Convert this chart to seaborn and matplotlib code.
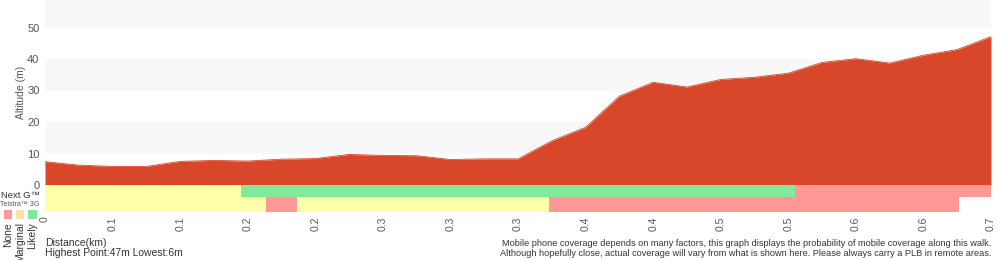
import numpy as np
import pandas as pd
import seaborn as sns
import matplotlib
matplotlib.use("Agg")
import matplotlib.pyplot as plt

sns.set_style("white")
plt.rcParams['font.family'] = ['Liberation Sans', 'DejaVu Sans']

# ---------------- data ----------------
distance_km = [0.0, 0.025, 0.05, 0.075, 0.1, 0.125, 0.15, 0.175, 0.2, 0.225,
               0.25, 0.275, 0.3, 0.325, 0.35, 0.375, 0.4, 0.425, 0.45, 0.475,
               0.5, 0.525, 0.55, 0.575, 0.6, 0.625, 0.65, 0.675, 0.7]
altitude_m = [7.4, 6.3, 5.9, 5.9, 7.5, 7.8, 7.6, 8.2, 8.4, 9.7,
              9.4, 9.3, 8.1, 8.3, 8.3, 14.0, 18.3, 28.2, 32.6, 31.1,
              33.5, 34.2, 35.5, 38.9, 40.1, 38.7, 41.2, 43.0, 47.1]

tick_pos = [0.0, 0.05, 0.1, 0.15, 0.2, 0.25, 0.3, 0.35, 0.4, 0.45, 0.5, 0.55, 0.6, 0.65, 0.7]
tick_labels = ["0", "0.1", "0.1", "0.2", "0.2", "0.3", "0.3", "0.3", "0.4", "0.4",
               "0.5", "0.5", "0.6", "0.6", "0.7"]
alt_ticks = [0, 10, 20, 30, 40, 50]

# coverage segments (start km, end km, level)
nextg_start = [0.0, 0.145, 0.555]
nextg_end = [0.145, 0.555, 0.7]
nextg_level = ["Marginal", "Likely", "None"]
g3_start = [0.0, 0.1635, 0.1865, 0.373]
g3_end = [0.1635, 0.1865, 0.373, 0.676]
g3_level = ["Marginal", "None", "Marginal", "None"]

levels = ["None", "Marginal", "Likely"]
bar_colors = {"None": "#ff9896", "Marginal": "#ffffaa", "Likely": "#80e99a"}
legend_colors = {"None": "#ff9896", "Marginal": "#ffe0a8", "Likely": "#80e99a"}

RED = "#d9472a"
GREY_TXT = "#555555"

df = pd.DataFrame({"dist": distance_km, "alt": altitude_m})

W, H = 1000, 260
fig = plt.figure(figsize=(W / 100, H / 100), dpi=100)

def px_axes(x0, y0, x1, y1):
    return fig.add_axes([x0 / W, 1 - y1 / H, (x1 - x0) / W, (y1 - y0) / H])

# ---------------- altitude chart ----------------
ax = px_axes(45, 0, 991, 185)
ymax = 185 / 3.15
for lo in range(10, 60, 20):
    ax.axhspan(lo, lo + 10, color="#f8f8f8", lw=0, zorder=0)
ax.axhspan(50, ymax, color="#f8f8f8", lw=0, zorder=0)
sns.lineplot(data=df, x="dist", y="alt", color=RED, lw=0.6, ax=ax, zorder=3)
ax.fill_between(df["dist"], 0, df["alt"], color=RED, lw=0, zorder=2)
ax.set_xlim(0, 0.7)
ax.set_ylim(0, ymax)
ax.set_yticks(alt_ticks)
ax.set_yticklabels([str(t) for t in alt_ticks])
ax.set_xticks([])
ax.set_xlabel("")
ax.set_ylabel("Altitude (m)", fontsize=7.5, color=GREY_TXT, labelpad=1)
ax.tick_params(axis="y", length=2, width=0.6, color="#888888", labelsize=8,
               labelcolor=GREY_TXT, pad=2)
for s in ax.spines.values():
    s.set_visible(False)

# ---------------- coverage strip ----------------
cx = px_axes(45, 185, 991, 212)
cx.barh([21], np.array(nextg_end) - np.array(nextg_start), left=nextg_start, height=12,
        color=[bar_colors[l] for l in nextg_level], lw=0, align="center")
cx.barh([7.5], np.array(g3_end) - np.array(g3_start), left=g3_start, height=15,
        color=[bar_colors[l] for l in g3_level], lw=0, align="center")
cx.set_xlim(0, 0.7)
cx.set_ylim(0, 27)
cx.set_yticks([])
cx.set_xticks(tick_pos)
cx.set_xticklabels(tick_labels, rotation=90, fontsize=7.5, color=GREY_TXT)
cx.tick_params(axis="x", length=0, pad=3)
for s in cx.spines.values():
    s.set_visible(False)

# ---------------- legend & labels ----------------
fig.text(1 / W, 1 - 195 / H, "Next G\u2122", fontsize=6.8, color="#333333",
         ha="left", va="center")
fig.text(20 / W, 1 - 205 / H, "Telstra\u2122 3G", fontsize=5, color=GREY_TXT,
         ha="center", va="center")
for i, lv in enumerate(levels):
    x0 = 3.5 + i * 12.3
    fig.patches.append(plt.Rectangle((x0 / W, 1 - 219 / H), 8.5 / W, 9 / H,
                                     transform=fig.transFigure, color=legend_colors[lv],
                                     lw=0))
    fig.text((x0 + 4.5) / W, 1 - 222 / H, lv, rotation=90, fontsize=7.5,
             color="#333333", ha="center", va="top")

fig.text(45 / W, 1 - 243 / H, "Distance(km)", fontsize=7.5, color="#333333",
         ha="left", va="center")
fig.text(45 / W, 1 - 253 / H, "Highest Point:47m Lowest:6m", fontsize=7.5,
         color="#333333", ha="left", va="center")
fig.text(991 / W, 1 - 243 / H,
         "Mobile phone coverage depends on many factors, this graph displays the probability of mobile coverage along this walk.",
         fontsize=6.6, color="#333333", ha="right", va="center")
fig.text(991 / W, 1 - 253 / H,
         "Although hopefully close, actual coverage will vary from what is shown here. Please always carry a PLB in remote areas.",
         fontsize=6.6, color="#333333", ha="right", va="center")

fig.savefig("out.png", dpi=100)
